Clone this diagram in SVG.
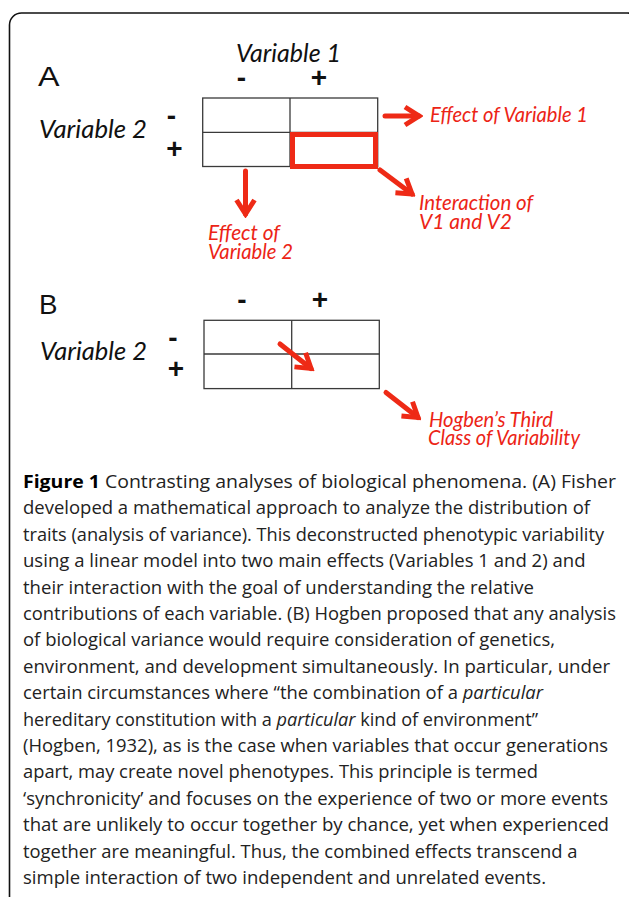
<svg xmlns="http://www.w3.org/2000/svg" width="629" height="897" viewBox="0 0 629 897">
  <style>
    .frame { fill: none; stroke: #111; stroke-width: 1.6; }
    .grid { fill: #fff; stroke: #3a3a3a; stroke-width: 1.3; }
    .gline { stroke: #3a3a3a; stroke-width: 1.3; }
    .hl { fill: none; stroke: #ee2a16; stroke-width: 5; }
    .panel { font-family: "Liberation Sans", Arial, sans-serif; font-size: 28px; fill: #111; }
    .axis { font-family: Lato, "Open Sans", sans-serif; font-style: italic; font-size: 25px; fill: #111; }
    .sign { font-family: "Liberation Sans", Arial, sans-serif; font-weight: bold; font-size: 28px; fill: #111; text-anchor: middle; }
    .note { font-family: Lato, "Open Sans", sans-serif; font-style: italic; font-size: 20.5px; fill: #ec2416; }
    .arrow { fill: none; stroke: #ee2a16; stroke-width: 5; stroke-linecap: round; marker-end: url(#chev); }
    .cap { font-family: "Open Sans", "Noto Sans", sans-serif; font-size: 17.5px; fill: #222; }
    .cap .b { font-weight: bold; fill: #000; }
    .cap .i { font-style: italic; }
  </style>
  <defs>
    <marker id="chev" markerUnits="userSpaceOnUse" viewBox="-2 -2 20 24" refX="14" refY="10" markerWidth="20" markerHeight="24" orient="auto">
      <path d="M0,1 L14,10 L0,19" fill="none" stroke="#ee2a16" stroke-width="5" stroke-linejoin="miter"/>
    </marker>
  </defs>

  <rect width="629" height="897" fill="#fff"/>

  <!-- outer frame, running off the right and bottom edges -->
  <rect class="frame" x="9.5" y="13" width="630" height="900" rx="12" ry="12"/>

  <!-- Panel A -->
  <g id="panel-a">
    <text class="panel" x="38" y="85.5" textLength="21.5" lengthAdjust="spacingAndGlyphs">A</text>
    <text class="axis" x="236" y="62" textLength="105" lengthAdjust="spacingAndGlyphs">Variable 1</text>
    <text class="sign" x="241.5" y="86.5">-</text>
    <text class="sign" x="319" y="87">+</text>
    <text class="axis" x="39" y="138" textLength="108" lengthAdjust="spacingAndGlyphs">Variable 2</text>
    <text class="sign" x="171.5" y="125">-</text>
    <text class="sign" x="174.5" y="158">+</text>
  </g>

  <g id="table-a">
    <rect class="grid" x="202.7" y="98" width="175" height="68.5"/>
    <line class="gline" x1="290" y1="98" x2="290" y2="166.5"/>
    <line class="gline" x1="202.7" y1="132.3" x2="377.7" y2="132.3"/>
    <rect class="hl" x="292.5" y="134.5" width="83" height="32"/>
  </g>

  <g id="label-effect-v1">
    <text class="note" x="430" y="122" textLength="158" lengthAdjust="spacingAndGlyphs">Effect of Variable 1</text>
  </g>
  <g id="label-interaction">
    <text class="note" x="419" y="210" textLength="114" lengthAdjust="spacingAndGlyphs">Interaction of</text>
    <text class="note" x="419" y="229" textLength="93" lengthAdjust="spacingAndGlyphs">V1 and V2</text>
  </g>
  <g id="label-effect-v2">
    <text class="note" x="208" y="240" textLength="72" lengthAdjust="spacingAndGlyphs">Effect of</text>
    <text class="note" x="208" y="259" textLength="85" lengthAdjust="spacingAndGlyphs">Variable 2</text>
  </g>

  <!-- Panel B -->
  <g id="panel-b">
    <text class="panel" x="39" y="314" textLength="18.5" lengthAdjust="spacingAndGlyphs">B</text>
    <text class="sign" x="242" y="309">-</text>
    <text class="sign" x="320" y="308.5">+</text>
    <text class="axis" x="40" y="360" textLength="107" lengthAdjust="spacingAndGlyphs">Variable 2</text>
    <text class="sign" x="173" y="346.5">-</text>
    <text class="sign" x="176" y="378">+</text>
  </g>

  <g id="table-b">
    <rect class="grid" x="204" y="320.3" width="175.3" height="68.3"/>
    <line class="gline" x1="291.7" y1="320.3" x2="291.7" y2="388.6"/>
    <line class="gline" x1="204" y1="354" x2="379.3" y2="354"/>
  </g>

  <g id="label-hogben">
    <text class="note" x="429" y="427" textLength="124" lengthAdjust="spacingAndGlyphs">Hogben’s Third</text>
    <text class="note" x="428" y="445" textLength="152" lengthAdjust="spacingAndGlyphs">Class of Variability</text>
  </g>

  <!-- connectors -->
  <g id="connectors">
    <path class="arrow" d="M385,116 L419,116"/>
    <path class="arrow" d="M245.5,171 L245.5,214"/>
    <path class="arrow" d="M380,170 L412,194"/>
    <path class="arrow" d="M280,344 L311,368.5"/>
    <path class="arrow" d="M386,392.5 L418,417.5"/>
  </g>

  <!-- caption -->
  <g id="caption" class="cap">
    <text x="23" y="488" textLength="593" lengthAdjust="spacingAndGlyphs"><tspan class="b">Figure 1</tspan> Contrasting analyses of biological phenomena. (A) Fisher</text>
    <text x="23" y="514.4" textLength="567" lengthAdjust="spacingAndGlyphs">developed a mathematical approach to analyze the distribution of</text>
    <text x="23" y="540.8" textLength="581" lengthAdjust="spacingAndGlyphs">traits (analysis of variance). This deconstructed phenotypic variability</text>
    <text x="23" y="567.2" textLength="562.5" lengthAdjust="spacingAndGlyphs">using a linear model into two main effects (Variables 1 and 2) and</text>
    <text x="23" y="593.6" textLength="511" lengthAdjust="spacingAndGlyphs">their interaction with the goal of understanding the relative</text>
    <text x="23" y="620" textLength="593" lengthAdjust="spacingAndGlyphs">contributions of each variable. (B) Hogben proposed that any analysis</text>
    <text x="23" y="646.4" textLength="532" lengthAdjust="spacingAndGlyphs">of biological variance would require consideration of genetics,</text>
    <text x="23" y="672.8" textLength="587" lengthAdjust="spacingAndGlyphs">environment, and development simultaneously. In particular, under</text>
    <text x="23" y="699.2" textLength="520" lengthAdjust="spacingAndGlyphs">certain circumstances where “the combination of a <tspan class="i">particular</tspan></text>
    <text x="23" y="725.6" textLength="515" lengthAdjust="spacingAndGlyphs">hereditary constitution with a <tspan class="i">particular</tspan> kind of environment”</text>
    <text x="23" y="752" textLength="585" lengthAdjust="spacingAndGlyphs">(Hogben, 1932), as is the case when variables that occur generations</text>
    <text x="23" y="778.4" textLength="515" lengthAdjust="spacingAndGlyphs">apart, may create novel phenotypes. This principle is termed</text>
    <text x="23" y="804.8" textLength="585" lengthAdjust="spacingAndGlyphs">‘synchronicity’ and focuses on the experience of two or more events</text>
    <text x="23" y="831.2" textLength="586" lengthAdjust="spacingAndGlyphs">that are unlikely to occur together by chance, yet when experienced</text>
    <text x="23" y="857.6" textLength="554.5" lengthAdjust="spacingAndGlyphs">together are meaningful. Thus, the combined effects transcend a</text>
    <text x="23" y="884" textLength="523" lengthAdjust="spacingAndGlyphs">simple interaction of two independent and unrelated events.</text>
  </g>
</svg>
